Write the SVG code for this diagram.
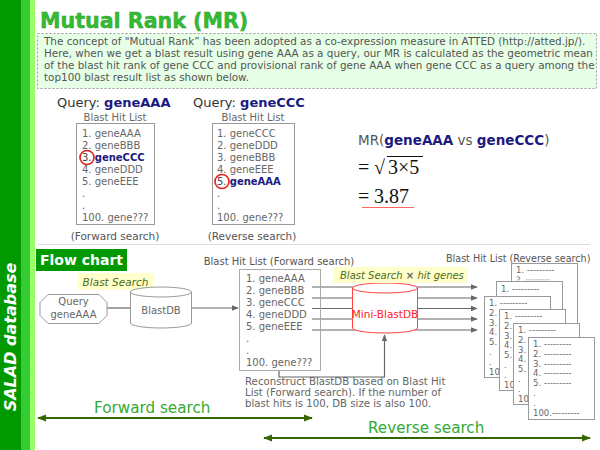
<svg xmlns="http://www.w3.org/2000/svg" width="600" height="450" viewBox="0 0 600 450">
<defs>
<style>
text{font-family:"DejaVu Sans","Liberation Sans",sans-serif;}
.intro{font-size:10.4px;fill:#555;}
.list{font-size:10px;fill:#666;}
.hl{font-weight:bold;fill:#1a1a80;}
.small{font-size:10px;fill:#666;}
.box{fill:#fff;stroke:#999;stroke-width:1;}
.conn{fill:none;stroke:#666;stroke-width:1.2;}
.garrow{fill:none;stroke:#336600;stroke-width:2;}
.yel{fill:#ffffcc;}
.ytxt{font-size:10.5px;font-style:italic;fill:#4d6b1a;}
.page{fill:#fff;stroke:#999;stroke-width:1;}
.ptxt{font-size:8.5px;fill:#666;}
.circ{fill:none;stroke:#e02020;stroke-width:1.6;}
.green{font-size:15.2px;fill:#33aa33;}
.serif{font-family:"Liberation Serif","Times New Roman",serif;font-size:20px;fill:#111;}
</style>
<marker id="ga" viewBox="0 0 10 10" refX="9" refY="5" markerWidth="7" markerHeight="7" markerUnits="userSpaceOnUse" orient="auto"><path d="M0,1 L10,5 L0,9 z" fill="#666"/></marker>
<marker id="da" viewBox="0 0 10 10" refX="9" refY="5" markerWidth="9" markerHeight="9" markerUnits="userSpaceOnUse" orient="auto-start-reverse"><path d="M0,1 L10,5 L0,9 z" fill="#336600"/></marker>
<clipPath id="c1"><rect x="0" y="0" width="67" height="17.5"/></clipPath>
</defs>
<rect width="600" height="450" fill="#fff"/>
<g id="sidebar">
<rect x="0" y="0" width="21" height="450" fill="#009900"/>
<rect x="21" y="0" width="9" height="450" fill="#33cc33"/>
<rect x="30" y="0" width="5" height="450" fill="#99ff66"/>
<text transform="translate(16,337) rotate(-90)" text-anchor="middle" style="font-size:16px;font-weight:bold;font-style:italic;fill:#fff;">SALAD database</text>
</g>
<g id="title">
<text x="40" y="28" style="font-size:20.6px;font-weight:bold;fill:#33bb33;stroke:#2a9a2a;stroke-width:0.4;">Mutual Rank (MR)</text>
</g>
<g id="intro">
<rect x="37.5" y="33.5" width="559" height="55" fill="#e6ffe6" stroke="#999" stroke-dasharray="2,2"/>
<text class="intro" x="44" y="45">The concept of "Mutual Rank” has been adopted as a co-expression measure in ATTED (http://atted.jp/).</text>
<text class="intro" x="44" y="57">Here, when we get a blast result using gene AAA as a query, our MR is calculated as the geometric mean</text>
<text class="intro" x="44" y="69">of the blast hit rank of gene CCC and provisional rank of gene AAA when gene CCC as a query among the</text>
<text class="intro" x="44" y="81">top100 blast result list as shown below.</text>
</g>
<g id="query-aaa">
<text x="57" y="107" style="font-size:13px;fill:#333;">Query: <tspan class="hl">geneAAA</tspan></text>
<text x="115" y="121" text-anchor="middle" class="small">Blast Hit List</text>
<rect class="box" x="76.5" y="123.5" width="78" height="101"/>
<text class="list" x="82" y="137">1. geneAAA</text>
<text class="list" x="82" y="149">2. geneBBB</text>
<text class="list" x="82" y="161"><tspan fill="#444">3.</tspan> <tspan class="hl">geneCCC</tspan></text>
<text class="list" x="82" y="173">4. geneDDD</text>
<text class="list" x="82" y="185">5. geneEEE</text>
<text class="list" x="82" y="197">.</text>
<text class="list" x="82" y="209">.</text>
<text class="list" x="82" y="221">100. gene???</text>
<circle class="circ" cx="87" cy="157.5" r="7"/>
<text x="115" y="240" text-anchor="middle" style="font-size:10.5px;fill:#555;">(Forward search)</text>
</g>
<g id="query-ccc">
<text x="193" y="107" style="font-size:13px;fill:#333;">Query: <tspan class="hl">geneCCC</tspan></text>
<text x="253" y="121" text-anchor="middle" class="small">Blast Hit List</text>
<rect class="box" x="212.5" y="123.5" width="82" height="101"/>
<text class="list" x="217" y="137">1. geneCCC</text>
<text class="list" x="217" y="149">2. geneDDD</text>
<text class="list" x="217" y="161">3. geneBBB</text>
<text class="list" x="217" y="173">4. geneEEE</text>
<text class="list" x="217" y="185"><tspan fill="#444">5.</tspan> <tspan class="hl">geneAAA</tspan></text>
<text class="list" x="217" y="197">.</text>
<text class="list" x="217" y="209">.</text>
<text class="list" x="217" y="221">100. gene???</text>
<circle class="circ" cx="222" cy="181.5" r="7"/>
<text x="252" y="240" text-anchor="middle" style="font-size:10.5px;fill:#555;">(Reverse search)</text>
</g>
<g id="mr-formula">
<text x="358" y="145" style="font-size:13.5px;fill:#555;">MR(<tspan class="hl">geneAAA</tspan> vs <tspan class="hl">geneCCC</tspan>)</text>
<text class="serif" x="358" y="174">=</text>
<text class="serif" x="374" y="174">√</text>
<line x1="387" y1="156.5" x2="423" y2="156.5" stroke="#111" stroke-width="1"/>
<text class="serif" x="388" y="174">3×5</text>
<text class="serif" x="358" y="203">=</text>
<text class="serif" x="374" y="203">3.87</text>
<line x1="362" y1="207.5" x2="414" y2="207.5" stroke="#ff6666" stroke-width="1"/>
</g>
<line x1="38" y1="244.5" x2="590" y2="244.5" stroke="#ddd" stroke-width="1"/>
<g id="flowchart-label">
<rect x="36" y="249" width="91" height="22" fill="#009900"/>
<text x="81.5" y="265" text-anchor="middle" style="font-size:14px;font-weight:bold;fill:#fff;">Flow chart</text>
</g>
<g id="connectors">
<line class="conn" x1="107" y1="308" x2="130" y2="308"/>
<line class="conn" x1="192" y1="308" x2="238" y2="308" marker-end="url(#ga)"/>
<line class="conn" x1="312" y1="287" x2="477" y2="287" marker-end="url(#ga)"/>
<line class="conn" x1="312" y1="298" x2="477" y2="298" marker-end="url(#ga)"/>
<line class="conn" x1="312" y1="308.5" x2="477" y2="308.5" marker-end="url(#ga)"/>
<line class="conn" x1="312" y1="319" x2="477" y2="319" marker-end="url(#ga)"/>
<line class="conn" x1="312" y1="330" x2="477" y2="330" marker-end="url(#ga)"/>
<path class="conn" d="M279,371 V377 H384.5 V335" marker-end="url(#ga)"/>
<line class="garrow" x1="38" y1="418" x2="312" y2="418" marker-start="url(#da)" marker-end="url(#da)"/>
<line class="garrow" x1="264" y1="438" x2="590" y2="438" marker-start="url(#da)" marker-end="url(#da)"/>
</g>
<g id="blast-search-label">
<rect class="yel" x="78" y="273" width="75" height="17"/>
<text class="ytxt" x="115.5" y="285.5" text-anchor="middle">Blast Search</text>
</g>
<g id="query-node">
<path class="box" d="M48,294.5 H99 L107,302.5 V315.5 L99,323.5 H48 L40,315.5 V302.5 Z"/>
<text class="small" x="73.5" y="305" text-anchor="middle">Query</text>
<text class="small" x="73.5" y="318" text-anchor="middle">geneAAA</text>
</g>
<g id="blastdb">
<path class="box" d="M130.5,292 V323 A30.5,5 0 0 0 191.5,323 V292 A30.5,5 0 0 0 130.5,292 Z"/>
<path fill="none" stroke="#999" d="M130.5,292 A30.5,5 0 0 0 191.5,292"/>
<text class="small" x="161" y="314" text-anchor="middle">BlastDB</text>
</g>
<g id="forward-list">
<text x="279" y="265" text-anchor="middle" style="font-size:10px;fill:#555;">Blast Hit List (Forward search)</text>
<rect x="239.5" y="269.5" width="81" height="101" fill="none" stroke="#aaa"/>
<text class="list" x="246" y="282">1. geneAAA</text>
<text class="list" x="246" y="294">2. geneBBB</text>
<text class="list" x="246" y="306">3. geneCCC</text>
<text class="list" x="246" y="318">4. geneDDD</text>
<text class="list" x="246" y="330">5. geneEEE</text>
<text class="list" x="246" y="342">.</text>
<text class="list" x="246" y="354">.</text>
<text class="list" x="246" y="366">100. gene???</text>
</g>
<g id="mini-blastdb">
<path d="M352.5,288 V328 A32.5,5 0 0 0 417.5,328 V288 A32.5,5 0 0 0 352.5,288 Z" fill="#fff" stroke="#ff4444"/>
<path fill="none" stroke="#ff4444" d="M352.5,288 A32.5,5 0 0 0 417.5,288"/>
<text x="385" y="318" text-anchor="middle" style="font-size:10.5px;fill:#ff2222;">Mini-BlastDB</text>
</g>
<g id="hitgenes-label">
<rect class="yel" x="333" y="267" width="135" height="16"/>
<text class="ytxt" x="340" y="279" style="font-size:10px;">Blast Search <tspan font-style="normal" font-weight="bold" fill="#666">×</tspan> hit genes</text>
</g>
<g id="notes">
<text class="small" x="245" y="385" style="font-size:10.2px;">Reconstruct BlastDB based on Blast Hit</text>
<text class="small" x="245" y="396" style="font-size:10.2px;">List (Forward search). If the number of</text>
<text class="small" x="245" y="407" style="font-size:10.2px;">blast hits is 100, DB size is also 100.</text>
</g>
<g id="reverse-lists">
<text x="446" y="262" style="font-size:9.6px;fill:#555;">Blast Hit List (Reverse search)</text>
<g transform="translate(511,263)"><rect class="page" x="0.5" y="0.5" width="66" height="81"/><g clip-path="url(#c1)"><text class="ptxt" x="5" y="10">1. ---------</text><text class="ptxt" x="5" y="18.6" style="font-size:7.5px;">2. ---------</text></g></g>
<g transform="translate(496,281)"><rect class="page" x="0.5" y="0.5" width="66" height="81"/><text class="ptxt" x="5" y="10.5">1. ---------</text></g>
<g transform="translate(484,296)"><rect class="page" x="0.5" y="0.5" width="66" height="81"/><text class="ptxt" x="5" y="10">1. ---------</text><text class="ptxt" x="5" y="19.8">2.</text><text class="ptxt" x="5" y="29.6">3.</text><text class="ptxt" x="5" y="39.4">4.</text><text class="ptxt" x="5" y="49.2">5.</text><text class="ptxt" x="5" y="59">.</text><text class="ptxt" x="5" y="68.8">.</text><text class="ptxt" x="5" y="78.6">10</text></g>
<g transform="translate(499,309)"><rect class="page" x="0.5" y="0.5" width="66" height="81"/><text class="ptxt" x="5" y="10">1. ---------</text><text class="ptxt" x="5" y="19.8">2.</text><text class="ptxt" x="5" y="29.6">3.</text><text class="ptxt" x="5" y="39.4">4.</text><text class="ptxt" x="5" y="49.2">5.</text><text class="ptxt" x="5" y="59">.</text><text class="ptxt" x="5" y="68.8">.</text><text class="ptxt" x="5" y="78.6">10</text></g>
<g transform="translate(513,323)"><rect class="page" x="0.5" y="0.5" width="66" height="81"/><text class="ptxt" x="5" y="10">1. ---------</text><text class="ptxt" x="5" y="19.8">2.</text><text class="ptxt" x="5" y="29.6">3.</text><text class="ptxt" x="5" y="39.4">4.</text><text class="ptxt" x="5" y="49.2">5.</text><text class="ptxt" x="5" y="59">.</text><text class="ptxt" x="5" y="68.8">.</text><text class="ptxt" x="5" y="78.6">10</text></g>
<g transform="translate(528,337)"><rect class="page" x="0.5" y="0.5" width="66" height="82"/><text class="ptxt" x="5" y="10">1. ---------</text><text class="ptxt" x="5" y="19.8">2. ---------</text><text class="ptxt" x="5" y="29.6">3. ---------</text><text class="ptxt" x="5" y="39.4">4. ---------</text><text class="ptxt" x="5" y="49.2">5. ---------</text><text class="ptxt" x="5" y="59">.</text><text class="ptxt" x="5" y="68.8">.</text><text class="ptxt" x="5" y="78.6">100.---------</text></g>
</g>
<g id="forward-search">
<text class="green" x="94" y="413">Forward search</text>
</g>
<g id="reverse-search">
<text class="green" x="368" y="433">Reverse search</text>
</g>
</svg>
